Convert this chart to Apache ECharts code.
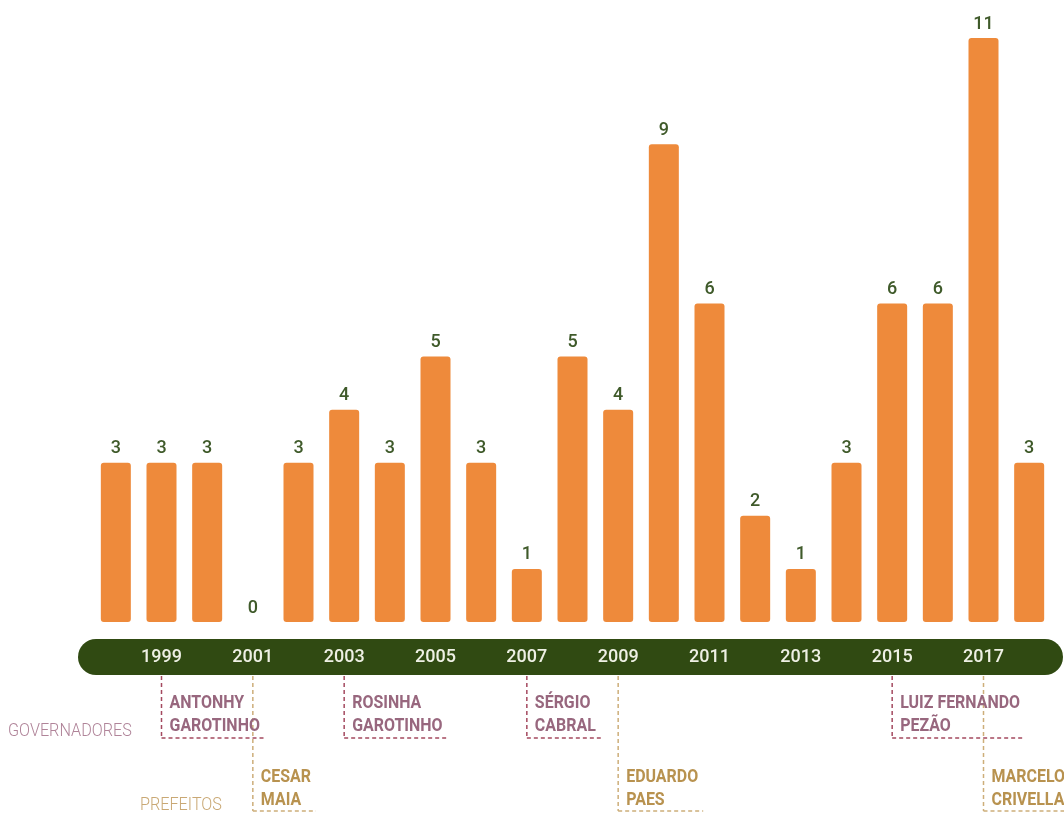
<!DOCTYPE html>
<html>
<head>
<meta charset="utf-8">
<script src="https://cdn.jsdelivr.net/npm/echarts@6/dist/echarts.min.js"></script>
<style>html,body{margin:0;padding:0;background:#fff}#c{width:1064px;height:814px}</style>
</head>
<body>
<div id="c"></div>
<script>
const years = ['1998','1999','2000','2001','2002','2003','2004','2005','2006','2007','2008','2009','2010','2011','2012','2013','2014','2015','2016','2017','2018'];
const values = [3,3,3,0,3,4,3,5,3,1,5,4,9,6,2,1,3,6,6,11,3];
const governors = [['1999','ANTONHY','GAROTINHO'],['2003','ROSINHA','GAROTINHO'],['2007','SÉRGIO','CABRAL'],['2015','LUIZ FERNANDO','PEZÃO']];
const mayors = [['2001','CESAR','MAIA'],['2009','EDUARDO','PAES'],['2017','MARCELO','CRIVELLA']];
const groupLabels = ['GOVERNADORES','PREFEITOS'];

const FONT = 'Roboto, sans-serif';
const chart = echarts.init(document.getElementById('c'));
chart.setOption({
  animation: false,
  grid: {left: 93, right: 12, top: 38, bottom: 192},
  xAxis: {
    type: 'category', data: years,
    axisLine: {show: false}, axisTick: {show: false},
    axisLabel: {
      interval: (i) => i % 2 === 1,
      margin: 26, color: '#eef0e4', fontSize: 18, fontWeight: 500, fontFamily: FONT
    }
  },
  yAxis: {type: 'value', min: 0, max: 11, show: false, splitLine: {show: false}},
  series: [{
    type: 'bar', data: values, barWidth: 30,
    itemStyle: {color: '#ee8a3b', borderRadius: 3},
    label: {show: true, position: 'top', distance: 5, color: '#3f5a2a', fontSize: 18, fontFamily: FONT, fontWeight: 500},
    z: 3
  }]
});

const meas = document.createElement('canvas').getContext('2d');
function textW(t, f) { meas.font = f; return meas.measureText(t).width; }
const nameFont = 'bold 19px ' + FONT;
const SX = 0.84;
const g = [];
g.push({type: 'rect', shape: {x: 78, y: 639, width: 985, height: 36, r: 18}, style: {fill: '#304a12'}, z: 0});
function addAnno(list, yEnd, lineColor, textColor, t1y) {
  list.forEach(([yr, a, b]) => {
    const x = chart.convertToPixel({xAxisIndex: 0}, yr);
    const w = Math.max(textW(a, nameFont), textW(b, nameFont)) * SX;
    const xe = x + 8 + w + 5;
    g.push({type: 'line', shape: {x1: x, y1: 676, x2: x, y2: yEnd}, style: {stroke: lineColor, lineWidth: 1.5, lineDash: [4, 3]}, z: 5});
    g.push({type: 'line', shape: {x1: x, y1: yEnd, x2: xe, y2: yEnd}, style: {stroke: lineColor, lineWidth: 1.5, lineDash: [4, 3]}, z: 5});
    g.push({type: 'text', x: x + 8, y: t1y, scaleX: SX, style: {text: a, font: nameFont, fill: textColor, verticalAlign: 'middle'}, z: 6});
    g.push({type: 'text', x: x + 8, y: t1y + 23, scaleX: SX, style: {text: b, font: nameFont, fill: textColor, verticalAlign: 'middle'}, z: 6});
  });
}
addAnno(governors, 738, '#a4495f', '#98677e', 703);
addAnno(mayors, 811, '#cdae7a', '#b8924f', 777);
g.push({type: 'text', x: 8, y: 731, scaleX: 0.9, style: {text: groupLabels[0], font: '300 18px ' + FONT, fill: '#b08499', verticalAlign: 'middle'}});
g.push({type: 'text', x: 140, y: 805, scaleX: 0.9, style: {text: groupLabels[1], font: '300 18px ' + FONT, fill: '#c9a874', verticalAlign: 'middle'}});
chart.setOption({graphic: g});
</script>
</body>
</html>
